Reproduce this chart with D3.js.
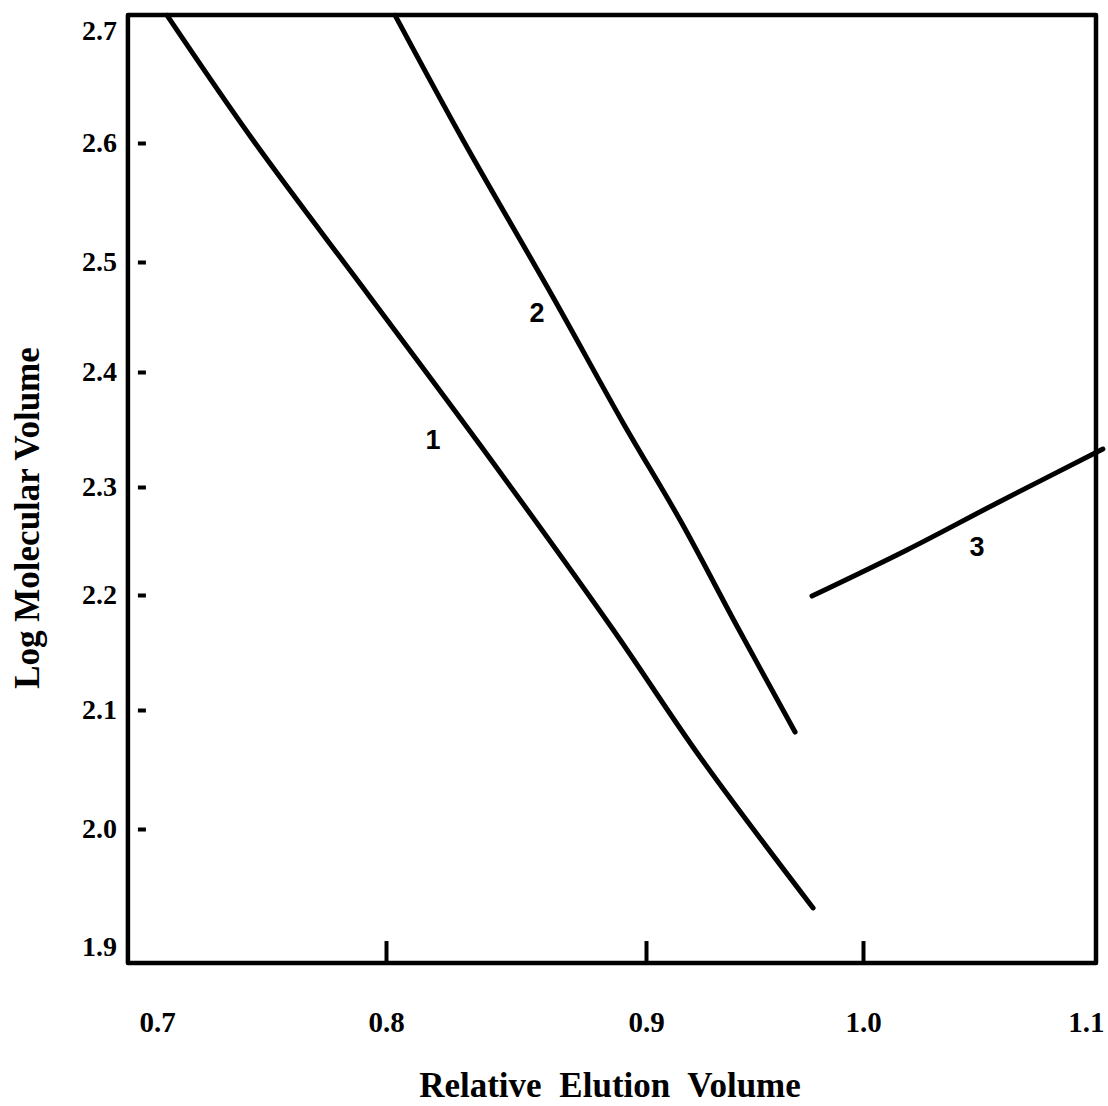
<!DOCTYPE html>
<html>
<head>
<meta charset="utf-8">
<script src="https://cdn.jsdelivr.net/npm/d3@7"></script>
<style>
body { margin: 0; background: #fff; }
svg { display: block; }
.tick text { font-family: "Liberation Serif", serif; font-weight: bold; font-size: 28px; fill: #000; }
.axis--x .tick text { font-size: 29px; }
.title { font-family: "Liberation Serif", serif; font-weight: bold; font-size: 35px; fill: #000; }
.curve-label { font-family: "Liberation Sans", sans-serif; font-weight: bold; font-size: 27px; fill: #000; }
</style>
</head>
<body>
<script>
// axis ticks as printed
var xTicks = [0.7, 0.8, 0.9, 1.0, 1.1],
    xTickLabels = ["0.7", "0.8", "0.9", "1.0", "1.1"],
    xMarked = [0.8, 0.9, 1.0];
var yTicks = [1.9, 2.0, 2.1, 2.2, 2.3, 2.4, 2.5, 2.6, 2.7],
    yTickLabels = ["1.9", "2.0", "2.1", "2.2", "2.3", "2.4", "2.5", "2.6", "2.7"],
    yMarked = [2.0, 2.1, 2.2, 2.3, 2.4, 2.5, 2.6];

// plot frame extent (data units)
var xExtent = [0.6873, 1.1013],
    yExtent = [1.8864, 2.7143];

// curve 1
var line1X = [0.7044, 0.7419, 0.7930, 0.8362, 0.8869, 0.9249, 0.9770],
    line1Y = [2.7140, 2.6027, 2.4682, 2.3365, 2.1713, 2.0605, 1.9331];
// curve 2
var line2X = [0.8035, 0.8296, 0.8642, 0.8912, 0.9157, 0.9424, 0.9687],
    line2Y = [2.7140, 2.6027, 2.4682, 2.3557, 2.2694, 2.1713, 2.0815];
// curve 3
var line3X = [0.9765, 1.0191, 1.0583, 1.1043],
    line3Y = [2.1991, 2.2417, 2.2852, 2.3330];

var curveNames = ["1", "2", "3"],
    labelX = [0.8181, 0.8581, 1.0496],
    labelY = [2.3409, 2.4536, 2.2444];

var width = 1108, height = 1106;

// the printed axes are not evenly spaced, so map each tick to where it sits
var x = d3.scaleLinear().domain(xTicks).range([157, 386, 646, 863, 1093]),
    y = d3.scaleLinear().domain(yTicks).range([947, 829, 710, 595, 487, 372, 262, 143, 31]);

var svg = d3.select("body").append("svg")
    .attr("width", width)
    .attr("height", height);

var x0 = x(xExtent[0]), x1 = x(xExtent[1]),
    y0 = y(yExtent[1]), y1 = y(yExtent[0]);

// y axis: dashes sit just inside the frame
var yAxis = svg.append("g")
    .attr("class", "axis axis--y")
    .attr("transform", "translate(" + (x0 + 18) + ",0)")
    .call(d3.axisLeft(y)
      .tickValues(yTicks)
      .tickFormat(function(d, i) { return yTickLabels[i]; })
      .tickSize(8)
      .tickPadding(21));
yAxis.select(".domain").remove();
yAxis.selectAll(".tick line")
    .attr("stroke-width", 4)
    .style("display", function(d) { return yMarked.indexOf(d) < 0 ? "none" : null; });

// x axis: ticks point up from the bottom edge
var xAxis = svg.append("g")
    .attr("class", "axis axis--x")
    .attr("transform", "translate(0," + y1 + ")")
    .call(d3.axisBottom(x)
      .tickValues(xTicks)
      .tickFormat(function(d, i) { return xTickLabels[i]; })
      .tickSize(-22)
      .tickPadding(48));
xAxis.select(".domain").remove();
xAxis.selectAll(".tick line")
    .attr("stroke-width", 4)
    .style("display", function(d) { return xMarked.indexOf(d) < 0 ? "none" : null; });
// last label sits against the right edge of the page
xAxis.selectAll(".tick text")
    .filter(function(d) { return d === xTicks[xTicks.length - 1]; })
    .attr("text-anchor", "end")
    .attr("dx", 11);

// frame
svg.append("rect")
    .attr("x", x0)
    .attr("y", y0)
    .attr("width", x1 - x0)
    .attr("height", y1 - y0)
    .attr("fill", "none")
    .attr("stroke", "#000")
    .attr("stroke-width", 4.5)
    .attr("stroke-linejoin", "round");

var line = d3.line()
    .curve(d3.curveCatmullRom.alpha(0.5))
    .x(function(d) { return x(d[0]); })
    .y(function(d) { return y(d[1]); });

svg.selectAll(".curve")
    .data([d3.zip(line1X, line1Y), d3.zip(line2X, line2Y), d3.zip(line3X, line3Y)])
  .enter().append("path")
    .attr("class", "curve")
    .attr("d", line)
    .attr("fill", "none")
    .attr("stroke", "#000")
    .attr("stroke-width", 5)
    .attr("stroke-linecap", "round")
    .attr("stroke-linejoin", "round");

svg.selectAll(".curve-label")
    .data(curveNames)
  .enter().append("text")
    .attr("class", "curve-label")
    .attr("x", function(d, i) { return x(labelX[i]); })
    .attr("y", function(d, i) { return y(labelY[i]); })
    .attr("dy", ".35em")
    .style("text-anchor", "middle")
    .text(function(d) { return d; });

// axis titles
svg.append("text")
    .attr("class", "title")
    .attr("x", 610)
    .attr("y", 1097)
    .style("text-anchor", "middle")
    .style("word-spacing", "9px")
    .text("Relative Elution Volume");

svg.append("text")
    .attr("class", "title")
    .attr("transform", "translate(39,518) rotate(-90)")
    .style("text-anchor", "middle")
    .text("Log Molecular Volume");
</script>
</body>
</html>
